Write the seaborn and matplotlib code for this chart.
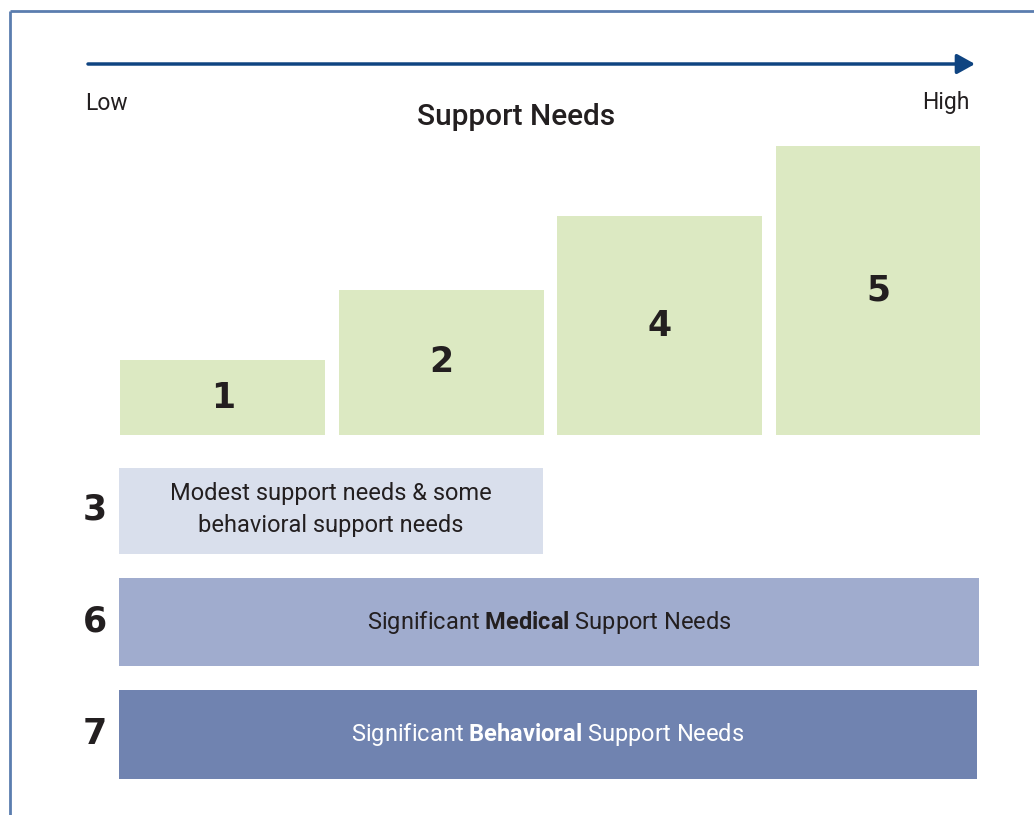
import matplotlib
matplotlib.use("Agg")
import matplotlib.pyplot as plt
import seaborn as sns
import pandas as pd

# Data: support levels
level_labels = ["1", "2", "4", "5"]
level_heights = [75, 145, 219, 289]

wide_labels = ["3", "6", "7"]
wide_lengths = [424, 860, 858]
wide_texts = [
    "Modest support needs & some\nbehavioral support needs",
    r"Significant $\mathbf{Medical}$ Support Needs",
    r"Significant $\mathbf{Behavioral}$ Support Needs",
]

green = "#DCE9C2"
wide_colors = ["#D9DFEC", "#A0ACCE", "#7083B0"]
wide_text_colors = ["#231F20", "#231F20", "#FFFFFF"]
ink = "#231F20"
navy = "#0F4481"
frame = "#5B7DAF"

sns.set_theme(style="white")
plt.rcParams["font.family"] = ["Roboto", "DejaVu Sans"]
plt.rcParams["mathtext.fontset"] = "custom"
plt.rcParams["mathtext.rm"] = "Roboto"
plt.rcParams["mathtext.bf"] = "Roboto:bold"

W, H = 1034, 815
fig = plt.figure(figsize=(W / 100, H / 100), dpi=100)
fig.patch.set_facecolor("white")

# overlay axes in pixel units (y down)
ax0 = fig.add_axes([0, 0, 1, 1])
ax0.set_xlim(0, W)
ax0.set_ylim(H, 0)
ax0.axis("off")

# frame lines
ax0.plot([10, 10], [11, H], color=frame, lw=2, solid_capstyle="butt")
ax0.plot([10, W], [11, 11], color=frame, lw=2, solid_capstyle="butt")

# arrow
ax0.annotate("", xy=(975, 64), xytext=(88, 64),
             arrowprops=dict(arrowstyle="-|>,head_length=0.9,head_width=0.5",
                             color=navy, lw=2.5, shrinkA=0, shrinkB=0))
ax0.text(85, 103, "Low", ha="left", va="center", fontsize=16.5, color=ink)
ax0.text(969, 103, "High", ha="right", va="center", fontsize=16.5, color=ink)
ax0.text(516, 117, "Support Needs", ha="center", va="center", fontsize=21.5,
         color=ink, fontweight="medium")

# top step bars
df_top = pd.DataFrame({"level": level_labels, "height": level_heights})
ax1 = fig.add_axes([120 / W, (H - 435) / H, 860 / W, 289 / H])
sns.barplot(data=df_top, x="level", y="height", color=green, saturation=1,
            width=205 / 218.4, linewidth=0, ax=ax1)
ax1.set_xlim((120 - 222.9) / 218.4, (980 - 222.9) / 218.4)
ax1.set_ylim(0, max(level_heights))
ax1.axis("off")
for i, (lab, h) in enumerate(zip(level_labels, level_heights)):
    ax1.text(i, h / 2, lab, ha="center", va="center", fontsize=25,
             fontweight="bold", color=ink, family="DejaVu Sans")

# horizontal bars
df_wide = pd.DataFrame({"group": wide_labels, "length": wide_lengths})
ax2 = fig.add_axes([119 / W, (H - 779) / H, 860 / W, 311 / H])
sns.barplot(data=df_wide, y="group", x="length", hue="group", palette=wide_colors,
            saturation=1, width=88 / 111.5, orient="h", legend=False,
            linewidth=0, ax=ax2)
ax2.set_xlim(0, 860)
ax2.set_ylim((779 - 509.5) / 112.5, (468 - 509.5) / 112.5)
ax2.axis("off")
for i, (lab, ln, txt, tc) in enumerate(zip(wide_labels, wide_lengths, wide_texts, wide_text_colors)):
    ax2.text(ln / 2, i, txt, ha="center", va="center", fontsize=17,
             color=tc, linespacing=1.45)
    ax2.text(-12, i, lab, ha="right", va="center", fontsize=25,
             fontweight="bold", color=ink, family="DejaVu Sans")

fig.savefig("out.png", dpi=100, facecolor="white")
